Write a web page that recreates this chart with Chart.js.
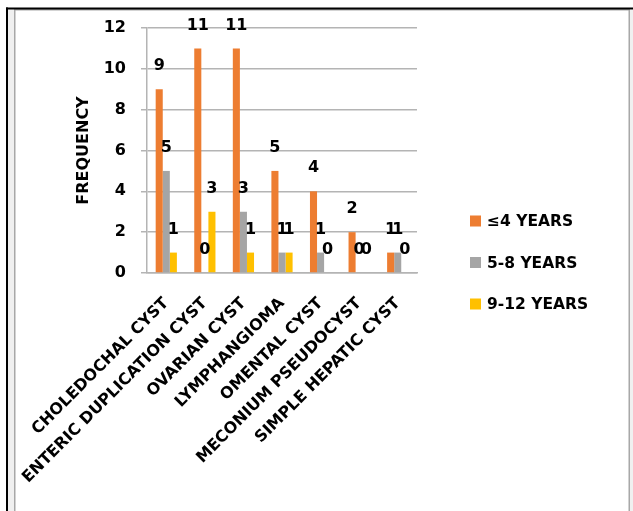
<!DOCTYPE html>
<html>
<head>
<meta charset="utf-8">
<script src="https://cdn.jsdelivr.net/npm/chart.js@4.4.1/dist/chart.umd.min.js"></script>
<style>
  html, body { margin: 0; padding: 0; background: #ffffff; }
  canvas { display: block; }
</style>
</head>
<body>
<canvas id="chart" width="633" height="511"></canvas>
<script>
// Cyst types and frequency per age group
const categories = [
  "CHOLEDOCHAL CYST",
  "ENTERIC DUPLICATION CYST",
  "OVARIAN CYST",
  "LYMPHANGIOMA",
  "OMENTAL CYST",
  "MECONIUM PSEUDOCYST",
  "SIMPLE HEPATIC CYST"
];
const seriesNames = ["≤4 YEARS", "5-8 YEARS", "9-12 YEARS"];
const upTo4Years = [9, 11, 11, 5, 4, 2, 1];
const from5To8Years = [5, 0, 3, 1, 1, 0, 1];
const from9To12Years = [1, 3, 1, 1, 0, 0, 0];
const yTickValues = [0, 2, 4, 6, 8, 10, 12];
const axisTitle = "FREQUENCY";

const seriesColors = ["#ED7D31", "#A5A5A5", "#FFC000"];
const FONT = "'DejaVu Sans', sans-serif";
const GRID = "#b4b4b4";

// Window frame around the chart
const framePlugin = {
  id: "frame",
  beforeDraw(chart) {
    const ctx = chart.ctx;
    const W = chart.width, H = chart.height;
    ctx.save();
    ctx.fillStyle = "#ffffff";
    ctx.fillRect(0, 0, W, H);
    ctx.fillStyle = "#f0f0f0";
    ctx.fillRect(8, 9, 6, H - 9);
    ctx.fillRect(630, 10, W - 630, H - 10);
    ctx.fillStyle = "#a8a8a8";
    ctx.fillRect(14, 9, 1.5, H - 9);
    ctx.fillRect(14, 9, 616, 1.5);
    ctx.fillRect(628.5, 9, 1.5, H - 9);
    ctx.fillStyle = "#000000";
    ctx.fillRect(6, 7.5, 2, H - 7.5);
    ctx.fillRect(6, 7.5, W - 6, 2);
    ctx.restore();
  }
};

// Value written above each bar
const valueLabelPlugin = {
  id: "valueLabels",
  afterDatasetsDraw(chart) {
    const ctx = chart.ctx;
    ctx.save();
    ctx.font = "bold 16px " + FONT;
    ctx.fillStyle = "#000000";
    ctx.textAlign = "center";
    ctx.textBaseline = "middle";
    chart.data.datasets.forEach((ds, di) => {
      const meta = chart.getDatasetMeta(di);
      meta.data.forEach((bar, i) => {
        ctx.fillText(String(ds.data[i]), bar.x, bar.y - 23);
      });
    });
    ctx.restore();
  }
};

// Legend to the right of the plot
const sideLegendPlugin = {
  id: "sideLegend",
  afterDraw(chart) {
    const ctx = chart.ctx;
    const x0 = chart.chartArea.right + 53;
    const y0 = 221;
    const step = 41.5;
    ctx.save();
    ctx.font = "bold 15.5px " + FONT;
    ctx.textAlign = "left";
    ctx.textBaseline = "middle";
    chart.data.datasets.forEach((ds, i) => {
      const y = y0 + i * step;
      ctx.fillStyle = ds.backgroundColor;
      ctx.fillRect(x0, y - 5.5, 11, 11);
      ctx.fillStyle = "#000000";
      ctx.fillText(ds.label, x0 + 17, y + 1);
    });
    ctx.restore();
  }
};

const seriesData = [upTo4Years, from5To8Years, from9To12Years];

new Chart(document.getElementById("chart"), {
  type: "bar",
  data: {
    labels: categories,
    datasets: seriesNames.map((name, i) => ({
      label: name,
      data: seriesData[i],
      backgroundColor: seriesColors[i],
      borderWidth: 0,
      categoryPercentage: 0.55,
      barPercentage: 1.0
    }))
  },
  options: {
    responsive: false,
    animation: false,
    devicePixelRatio: 1,
    layout: { padding: { left: 74, top: 28, right: 216, bottom: 0 } },
    plugins: {
      legend: { display: false },
      tooltip: { enabled: false }
    },
    scales: {
      x: {
        grid: { display: false },
        border: { display: true, color: GRID, width: 1.5 },
        ticks: {
          color: "#000000",
          font: { family: FONT, size: 16, weight: "bold" },
          maxRotation: 45,
          minRotation: 45,
          autoSkip: false,
          padding: 13
        },
        afterFit(scale) { scale.height = 511 - 273; }
      },
      y: {
        min: 0,
        max: 12,
        afterBuildTicks(scale) { scale.ticks = yTickValues.map(v => ({ value: v })); },
        grid: { color: GRID, lineWidth: 1.5, tickLength: 6, drawTicks: true },
        border: { display: true, color: GRID, width: 1.5 },
        ticks: {
          color: "#000000",
          font: { family: FONT, size: 16, weight: "bold" },
          padding: 15
        },
        title: {
          display: true,
          text: axisTitle,
          color: "#000000",
          font: { family: FONT, size: 16, weight: "bold" },
          padding: { top: 0, bottom: 0 }
        },
        afterFit(scale) { scale.width = 73; }
      }
    }
  },
  plugins: [framePlugin, valueLabelPlugin, sideLegendPlugin]
});
</script>
</body>
</html>
